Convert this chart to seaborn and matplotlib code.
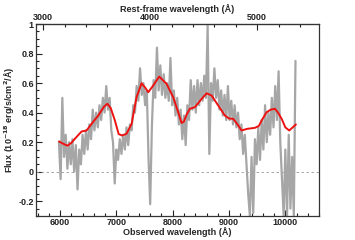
import numpy as np
import pandas as pd
import seaborn as sns
from matplotlib import pyplot as plt
from matplotlib.ticker import MultipleLocator

sns.set_style("ticks")
plt.rcParams['font.family'] = ['Liberation Sans', 'DejaVu Sans']
plt.rcParams['font.weight'] = 'bold'

# redshift used for the rest-frame axis
z = 0.9

# observed spectrum, sampled every 30 A from 5980 A
spec_start = 5980
spec_step = 30
spec_flux = [
    0.20, -0.05, 0.50, 0.10, 0.25, 0.02, 0.20, 0.05, 0.22, 0.00,
    0.18, -0.12, 0.15, 0.05, 0.25, 0.12, 0.28, 0.15, 0.32, 0.22,
    0.42, 0.28, 0.40, 0.30, 0.45, 0.35, 0.50, 0.40, 0.58, 0.42,
    0.50, 0.28, 0.20, -0.08, 0.15, 0.08, 0.22, 0.12, 0.25, 0.15,
    0.30, 0.18, 0.32, 0.28, 0.45, 0.40, 0.58, 0.48, 0.70, 0.52,
    0.60, 0.45, 0.55, 0.10, -0.22, 0.30, 0.62, 0.50, 0.84, 0.55,
    0.72, 0.52, 0.66, 0.50, 0.60, 0.48, 0.77, 0.45, 0.55, 0.38,
    0.50, 0.32, 0.42, 0.22, 0.38, 0.18, 0.45, 0.35, 0.62, 0.42,
    0.58, 0.40, 0.62, 0.45, 0.60, 0.48, 0.65, 0.50, 0.99, 0.12,
    0.60, 0.48, 0.70, 0.50, 0.62, 0.42, 0.55, 0.38, 0.52, 0.35,
    0.58, 0.35, 0.48, 0.32, 0.45, 0.30, 0.40, 0.22, 0.32, 0.12,
    0.25, 0.05, -0.15, -0.30, 0.10, -0.28, 0.22, 0.05, 0.30, 0.08,
    0.35, 0.15, 0.45, 0.20, 0.40, 0.25, 0.50, 0.30, 0.58, 0.35,
    0.68, 0.20, -0.05, -0.30, 0.15, -0.30, 0.25, -0.25, 0.10, -0.30,
    0.75,
]
spec_wl = spec_start + spec_step * np.arange(len(spec_flux))

# smooth model (red)
model_wl = [5980, 6050, 6133, 6200, 6263, 6381, 6470, 6559, 6677, 6780,
            6840, 6900, 6973, 7040, 7100, 7181, 7270, 7358, 7447, 7510,
            7565, 7653, 7760, 7891, 8009, 8100, 8157, 8200, 8250, 8305,
            8394, 8513, 8602, 8690, 8808, 8927, 9000, 9074, 9150, 9223,
            9320, 9460, 9530, 9579, 9668, 9740, 9815, 9870, 9934, 10000,
            10069, 10130, 10188]
model_flux = [0.205, 0.19, 0.176, 0.195, 0.223, 0.272, 0.279, 0.324, 0.38, 0.44,
              0.46, 0.43, 0.347, 0.255, 0.245, 0.257, 0.324, 0.504, 0.599, 0.57,
              0.538, 0.583, 0.644, 0.595, 0.504, 0.40, 0.33, 0.34, 0.39, 0.426,
              0.437, 0.493, 0.531, 0.516, 0.448, 0.380, 0.36, 0.358, 0.32, 0.279,
              0.29, 0.297, 0.31, 0.347, 0.403, 0.42, 0.426, 0.40, 0.358, 0.30,
              0.279, 0.30, 0.32]

yticks = [-0.2, 0, 0.2, 0.4, 0.6, 0.8, 1]
ytick_labels = ['-0.2', '0', '0.2', '0.4', '0.6', '0.8', '1']
xticks = [6000, 7000, 8000, 9000, 10000]
rest_ticks = [3000, 4000, 5000]

spec = pd.DataFrame({'wl': spec_wl, 'flux': spec_flux})
model = pd.DataFrame({'wl': model_wl, 'flux': model_flux})

fig = plt.figure(figsize=(3.55, 2.4), dpi=100)
ax = fig.add_axes([0.101, 0.10, 0.798, 0.80])

ax.axhline(0, color='#999999', lw=0.6, ls=(0, (3, 3)), zorder=1)
sns.lineplot(data=spec, x='wl', y='flux', ax=ax, color='#a6a6a6', lw=1.6,
             sort=False, zorder=2)
sns.lineplot(data=model, x='wl', y='flux', ax=ax, color='#ee1111', lw=1.4,
             sort=False, zorder=3)

ax.set_xlim(5570, 10600)
ax.set_ylim(-0.3, 1.0)
ax.set_xticks(xticks)
ax.xaxis.set_minor_locator(MultipleLocator(200))
ax.set_yticks(yticks)
ax.set_yticklabels(ytick_labels)
ax.yaxis.set_minor_locator(MultipleLocator(0.05))
ax.tick_params(which='both', direction='in', labelsize=6.5, width=0.8,
               colors='#222222', top=False, right=False, pad=1.5)
ax.tick_params(which='major', length=4)
ax.tick_params(which='minor', length=2)

ax.set_xlabel('Observed wavelength (Å)', fontsize=6.5, fontweight='bold', labelpad=0)
ax.set_ylabel('Flux (10$^{-18}$ erg/s/cm$^2$/Å)', fontsize=6.5, fontweight='bold',
              labelpad=1)

top = ax.secondary_xaxis('top', functions=(lambda x: x / (1 + z), lambda x: x * (1 + z)))
top.set_xticks(rest_ticks)
top.xaxis.set_minor_locator(MultipleLocator(200))
top.tick_params(which='both', direction='in', labelsize=6.5, width=0.8,
                colors='#222222', pad=1.5)
top.tick_params(which='major', length=4)
top.tick_params(which='minor', length=2)
top.set_xlabel('Rest-frame wavelength (Å)', fontsize=6.5, fontweight='bold', labelpad=1)

for s in ax.spines.values():
    s.set_color('#333333')
    s.set_linewidth(0.9)
top.spines['top'].set_color('#333333')

fig.savefig('out.png', dpi=100)
